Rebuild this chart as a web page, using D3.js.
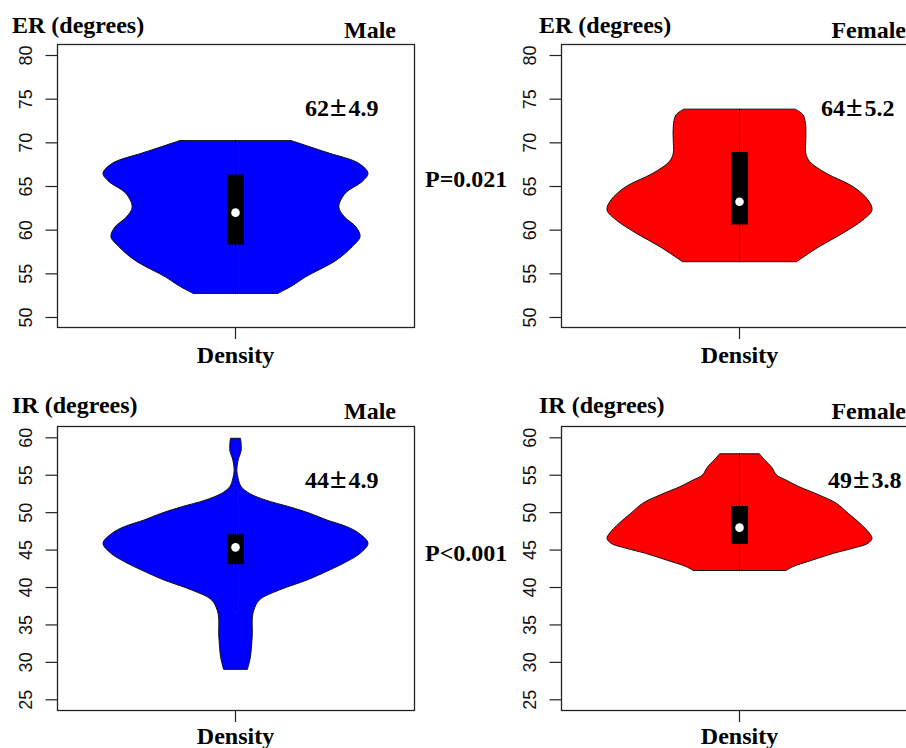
<!DOCTYPE html>
<html>
<head>
<meta charset="utf-8">
<script src="https://cdn.jsdelivr.net/npm/d3@7"></script>
<style>
html,body{margin:0;padding:0;background:#fff;}
svg{display:block;}
</style>
</head>
<body>
<svg id="chart" width="906" height="748"></svg>
<script>
// ---------- DATA ----------
const erTicks = [50, 55, 60, 65, 70, 75, 80];
const irTicks = [25, 30, 35, 40, 45, 50, 55, 60];

// violin outlines: [value (degrees), relative density 0..1]
const erMaleDensity = [[70.2,0.42],[69.12,0.635],[68.75,0.71],[67.6,0.93],[66.45,1.0],[65.5,0.955],[64.2,0.83],[62.6,0.78],[61.5,0.82],[60.3,0.91],[59.2,0.94],[58.05,0.88],[56.5,0.76],[54.6,0.53],[53.6,0.43],[52.7,0.32]];
const erFemaleDensity = [[73.8,0.42],[73.13,0.48],[71.8,0.50],[70.27,0.50],[68.75,0.50],[67.8,0.53],[66.45,0.655],[64.9,0.86],[63.4,0.97],[62.25,1.0],[61.1,0.93],[59.6,0.78],[58.05,0.60],[56.33,0.43]];
const irMaleDensity = [[59.87,0.038],[58.3,0.043],[56.97,0.02],[55.6,0.01],[54.5,0.02],[53.4,0.043],[52.5,0.106],[51.6,0.23],[50.7,0.41],[49.85,0.56],[48.95,0.69],[48.06,0.84],[47.2,0.93],[45.84,1.0],[44.5,0.94],[43.4,0.84],[42.27,0.71],[40.94,0.54],[39.6,0.33],[38.27,0.18],[36.9,0.138],[35.6,0.126],[33.8,0.127],[32.0,0.12],[30.7,0.113],[29.0,0.09]];
const irFemaleDensity = [[57.8,0.15],[56.97,0.19],[56.07,0.24],[54.96,0.28],[54.3,0.35],[53.4,0.45],[52.3,0.60],[51.2,0.73],[49.85,0.82],[48.5,0.91],[47.2,0.98],[46.5,1.0],[45.84,0.97],[45.2,0.86],[44.5,0.71],[43.6,0.55],[42.7,0.40],[42.2,0.35]];

// box stats: [whiskerLow, q1, median, q3, whiskerHigh]
const erMaleBox = [52.7, 58.3, 61.95, 66.3, 70.2];
const erFemaleBox = [56.33, 60.6, 63.2, 68.9, 73.8];
const irMaleBox = [37.0, 43.04, 45.3, 47.04, 53.1];
const irFemaleBox = [42.2, 45.75, 47.93, 50.82, 57.8];

// mean ± SD labels
const meanValues = ["62", "64", "44", "49"];
const sdValues = ["4.9", "5.2", "4.9", "3.8"];
const groupLabels = ["Male", "Female", "Male", "Female"];
const axisTitles = ["ER (degrees)", "ER (degrees)", "IR (degrees)", "IR (degrees)"];
const pLabels = ["P=0.021", "P<0.001"];
const xLabel = "Density";

// ---------- LAYOUT ----------
const svg = d3.select("#chart");
const serif = "'Liberation Serif','Times New Roman',serif";
const sans = "'Liberation Sans',Arial,sans-serif";

const panels = [
  {left:57, top:44, w:357, h:283, domain:[48.855,81.26], ticks:erTicks, dens:erMaleDensity, box:erMaleBox, color:"#0000FF",
   title:axisTitles[0], tX:12, tY:33, group:groupLabels[0], gX:396, gY:38, mean:meanValues[0], sd:sdValues[0], mX:305, mY:116, dY:363},
  {left:561, top:44, w:357, h:283, domain:[48.855,81.26], ticks:erTicks, dens:erFemaleDensity, box:erFemaleBox, color:"#FF0000",
   title:axisTitles[1], tX:539, tY:33, group:groupLabels[1], gX:906, gY:38, mean:meanValues[1], sd:sdValues[1], mX:821, mY:116, dY:363},
  {left:57, top:426, w:357, h:284, domain:[23.57,61.51], ticks:irTicks, dens:irMaleDensity, box:irMaleBox, color:"#0000FF",
   title:axisTitles[2], tX:12, tY:413, group:groupLabels[2], gX:396, gY:419, mean:meanValues[2], sd:sdValues[2], mX:305, mY:488, dY:744},
  {left:561, top:426, w:357, h:284, domain:[23.57,61.51], ticks:irTicks, dens:irFemaleDensity, box:irFemaleBox, color:"#FF0000",
   title:axisTitles[3], tX:539, tY:413, group:groupLabels[3], gX:906, gY:419, mean:meanValues[3], sd:sdValues[3], mX:828, mY:488, dY:744}
];

const wScale = d3.scaleLinear().domain([0, 1]).range([0, 132.5]);

panels.forEach(p => {
  const y = d3.scaleLinear().domain(p.domain).range([p.top + p.h, p.top]);
  const cx = p.left + p.w / 2;
  const g = svg.append("g");

  // violin
  const area = d3.area()
    .y(d => y(d[0]))
    .x0(d => cx - wScale(d[1]))
    .x1(d => cx + wScale(d[1]))
    .curve(d3.curveCatmullRom.alpha(0.5));
  g.append("path").datum(p.dens).attr("d", area)
    .attr("fill", p.color).attr("stroke", "#111").attr("stroke-width", 1);

  // whisker line
  g.append("line").attr("x1", cx).attr("x2", cx)
    .attr("y1", y(p.box[0])).attr("y2", y(p.box[4]))
    .attr("stroke", "#000").attr("stroke-width", 1);
  // box
  g.append("rect").attr("x", cx - 8.5).attr("width", 17)
    .attr("y", y(p.box[3])).attr("height", y(p.box[1]) - y(p.box[3]))
    .attr("fill", "#000");
  // median
  g.append("circle").attr("cx", cx).attr("cy", y(p.box[2])).attr("r", 4.3).attr("fill", "#fff");

  // frame
  g.append("rect").attr("x", p.left + 0.5).attr("y", p.top + 0.5).attr("width", p.w).attr("height", p.h)
    .attr("fill", "none").attr("stroke", "#222").attr("stroke-width", 1.3);

  // y axis
  const ax = g.append("g").attr("transform", `translate(${p.left + 0.5},0)`)
    .call(d3.axisLeft(y).tickValues(p.ticks).tickSize(12).tickFormat(d3.format("d")));
  ax.select(".domain").remove();
  ax.selectAll(".tick line").attr("stroke", "#222").attr("stroke-width", 1.2);
  ax.selectAll(".tick text")
    .attr("x", 0).attr("dy", 0)
    .attr("transform", "translate(-25.5,0) rotate(-90)")
    .attr("text-anchor", "middle")
    .style("font-family", sans).style("font-size", "18px").attr("fill", "#111");

  // x tick
  g.append("line").attr("x1", cx).attr("x2", cx).attr("y1", p.top + p.h).attr("y2", p.top + p.h + 12)
    .attr("stroke", "#222").attr("stroke-width", 1.2);

  // texts
  const txt = (s, x, yy, anchor, size) => g.append("text").text(s).attr("x", x).attr("y", yy)
    .attr("text-anchor", anchor).style("font-family", serif).style("font-weight", "bold")
    .style("font-size", size + "px").attr("fill", "#000");
  txt(p.title, p.tX, p.tY, "start", 24);
  txt(p.group, p.gX, p.gY, "end", 24);
  txt(xLabel, cx, p.dY, "middle", 24);

  // mean ± sd label with wide ± sign
  const m = g.append("text").attr("x", p.mX).attr("y", p.mY)
    .style("font-family", serif).style("font-weight", "bold").style("font-size", "24px").attr("fill", "#000");
  m.append("tspan").text(p.mean);
  m.append("tspan").text("\u00B1").attr("dx", 1).style("font-size", "30px");
  m.append("tspan").text(p.sd).attr("dx", 2);
});

// P values
svg.append("text").text(pLabels[0]).attr("x", 425).attr("y", 187)
  .style("font-family", serif).style("font-weight", "bold").style("font-size", "24px");
svg.append("text").text(pLabels[1]).attr("x", 425).attr("y", 561)
  .style("font-family", serif).style("font-weight", "bold").style("font-size", "24px");
</script>
</body>
</html>
